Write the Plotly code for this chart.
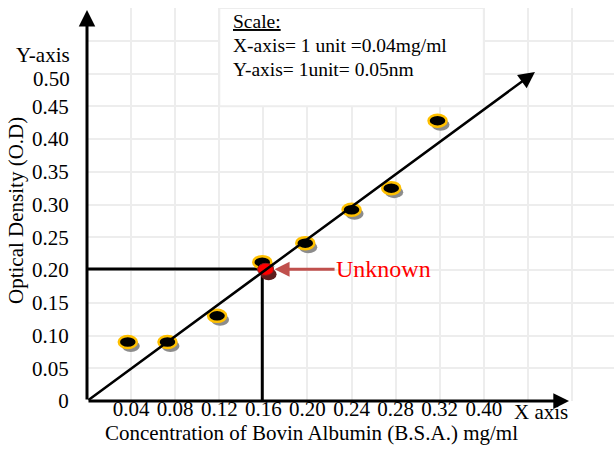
import plotly.graph_objects as go

# ---- data ----
CONC = [0.037, 0.073, 0.118, 0.159, 0.198, 0.240, 0.276, 0.318]
OD = [0.090, 0.090, 0.130, 0.212, 0.241, 0.292, 0.325, 0.428]
UNKNOWN_CONC = 0.162
UNKNOWN_OD = 0.201
GUIDE_CONC = 0.159
GUIDE_OD = 0.2015
FIT_END_CONC = 0.4064
FIT_END_OD = 0.5023
X_AXIS_END = 0.4373
Y_AXIS_END = 0.597

X_TICKS = [0.04, 0.08, 0.12, 0.16, 0.20, 0.24, 0.28, 0.32, 0.36]
X_TICK_LABELS = ["0.04", "0.08", "0.12", "0.16", "0.20", "0.24", "0.28", "0.32", "0.40"]
Y_TICKS = [0, 0.05, 0.10, 0.15, 0.20, 0.25, 0.30, 0.35, 0.40, 0.45]
Y_TICK_LABELS = ["0", "0.05", "0.10", "0.15", "0.20", "0.25", "0.30", "0.35", "0.40", "0.45"]
Y_TOP_LABEL = "0.50"
X_GRID = [0.04, 0.08, 0.12, 0.16, 0.20, 0.24, 0.28, 0.32, 0.36, 0.40, 0.44]
Y_GRID = [0.05, 0.10, 0.15, 0.20, 0.25, 0.30, 0.35, 0.40, 0.45, 0.50, 0.55, 0.60]

SCALE_BOX = (0.12, 0.36, 0.45, 0.60)

# ---- layout constants ----
W, H = 614, 453
ML, MR, MT, MB = 87, 0, 8, 52
FONT = "Liberation Serif"
GRID = "#ededed"


def px(x):
    return (x - ML) / (W - ML - MR)


def py(y):
    return (H - MB - y) / (H - MT - MB)


fig = go.Figure()

fig.add_trace(go.Scatter(x=CONC, y=OD, mode="markers",
                         marker=dict(size=14, opacity=0), name="Standards",
                         hoverinfo="x+y", showlegend=False))

shapes = []
# scale box (white, hides grid)
shapes.append(dict(type="rect", xref="x", yref="y",
                   x0=SCALE_BOX[0], x1=SCALE_BOX[1], y0=SCALE_BOX[2], y1=SCALE_BOX[3],
                   fillcolor="white", line=dict(color=GRID, width=2), layer="above"))
# guide lines for the unknown
shapes.append(dict(type="line", xref="x", yref="y", x0=0, x1=GUIDE_CONC, y0=GUIDE_OD, y1=GUIDE_OD,
                   line=dict(color="black", width=3)))
shapes.append(dict(type="line", xref="x", yref="y", x0=GUIDE_CONC, x1=GUIDE_CONC, y0=0, y1=GUIDE_OD,
                   line=dict(color="black", width=3)))

# standard points: shadow + ellipse
for cx, cy in zip(CONC, OD):
    shapes.append(dict(type="circle", xref="x", yref="y", xsizemode="pixel", ysizemode="pixel",
                       xanchor=cx, yanchor=cy, x0=-6, x1=12, y0=-10, y1=2,
                       fillcolor="#8c8c8c", line=dict(width=0)))
    shapes.append(dict(type="circle", xref="x", yref="y", xsizemode="pixel", ysizemode="pixel",
                       xanchor=cx, yanchor=cy, x0=-9, x1=9, y0=-6, y1=6,
                       fillcolor="black", line=dict(color="#FFC000", width=2.5)))

# unknown point
shapes.append(dict(type="circle", xref="x", yref="y", xsizemode="pixel", ysizemode="pixel",
                   xanchor=UNKNOWN_CONC, yanchor=UNKNOWN_OD, x0=-5, x1=11, y0=-11, y1=1,
                   fillcolor="#5e1c1c", line=dict(width=0)))
shapes.append(dict(type="circle", xref="x", yref="y", xsizemode="pixel", ysizemode="pixel",
                   xanchor=UNKNOWN_CONC, yanchor=UNKNOWN_OD, x0=-8, x1=8, y0=-6, y1=6,
                   fillcolor="#ff0000", line=dict(color="#8b1a1a", width=1)))

annotations = []
# axes arrows
annotations.append(dict(x=0, y=Y_AXIS_END, ax=0, ay=0, xref="x", yref="y", axref="x", ayref="y",
                        showarrow=True, arrowhead=2, arrowwidth=3, arrowsize=1.1, arrowcolor="black", text=""))
annotations.append(dict(x=X_AXIS_END, y=0, ax=0, ay=0, xref="x", yref="y", axref="x", ayref="y",
                        showarrow=True, arrowhead=2, arrowwidth=3, arrowsize=1.05, arrowcolor="black", text=""))
# fitted line arrow
annotations.append(dict(x=FIT_END_CONC, y=FIT_END_OD, ax=0, ay=0, xref="x", yref="y", axref="x", ayref="y",
                        showarrow=True, arrowhead=2, arrowwidth=2.5, arrowsize=1.3, arrowcolor="black", text=""))
# unknown label
annotations.append(dict(x=UNKNOWN_CONC, y=UNKNOWN_OD, xref="x", yref="y", ax=118, ay=0,
                        text="Unknown", showarrow=True, arrowhead=2, arrowwidth=3, arrowsize=1,
                        arrowcolor="#C0504D", standoff=9,
                        font=dict(family=FONT, size=24, color="#ff0000")))
# scale text
annotations.append(dict(x=px(231), y=py(21), xref="paper", yref="paper", xanchor="left", yanchor="middle",
                        text="<u>Scale:</u>", showarrow=False, font=dict(family=FONT, size=19.5, color="black")))
annotations.append(dict(x=px(231), y=py(46), xref="paper", yref="paper", xanchor="left", yanchor="middle",
                        text="X-axis= 1 unit =0.04mg/ml", showarrow=False, font=dict(family=FONT, size=19.5, color="black")))
annotations.append(dict(x=px(231), y=py(70), xref="paper", yref="paper", xanchor="left", yanchor="middle",
                        text="Y-axis= 1unit= 0.05nm", showarrow=False, font=dict(family=FONT, size=19.5, color="black")))
# axis names and top y label
annotations.append(dict(x=px(72), y=py(55), xref="paper", yref="paper", xanchor="right", yanchor="middle",
                        text="Y-axis", showarrow=False, font=dict(family=FONT, size=21, color="black")))
annotations.append(dict(x=px(72), y=py(79), xref="paper", yref="paper", xanchor="right", yanchor="middle",
                        text=Y_TOP_LABEL, showarrow=False, font=dict(family=FONT, size=21, color="black")))
annotations.append(dict(x=px(541), y=py(412), xref="paper", yref="paper", xanchor="center", yanchor="middle",
                        text="X axis", showarrow=False, font=dict(family=FONT, size=21, color="black")))
annotations.append(dict(x=px(311), y=py(433), xref="paper", yref="paper", xanchor="center", yanchor="middle",
                        text="Concentration of Bovin Albumin (B.S.A.) mg/ml", showarrow=False,
                        font=dict(family=FONT, size=21, color="black")))
annotations.append(dict(x=px(16), y=py(211), xref="paper", yref="paper", xanchor="center", yanchor="middle",
                        text="Optical Density (O.D)", textangle=-90, showarrow=False,
                        font=dict(family=FONT, size=21, color="black")))

fig.update_layout(
    width=W, height=H, margin=dict(l=ML, r=MR, t=MT, b=MB),
    paper_bgcolor="white", plot_bgcolor="white",
    shapes=shapes, annotations=annotations, showlegend=False,
    xaxis=dict(range=[0, (W - ML - MR) / 1102.3], tickvals=X_TICKS, ticktext=X_TICK_LABELS,
               showgrid=True, gridcolor=GRID, gridwidth=2, zeroline=False, showline=False,
               ticks="", ticklabelstandoff=-7,
               tickfont=dict(family=FONT, size=21, color="black"),
               minor=dict(tickvals=X_GRID, showgrid=True, gridcolor=GRID, gridwidth=2, ticks="")),
    yaxis=dict(range=[0, 0.6], tickvals=Y_TICKS, ticktext=Y_TICK_LABELS,
               showgrid=True, gridcolor=GRID, gridwidth=2, zeroline=False, showline=False,
               ticks="outside", ticklen=13, tickcolor="rgba(0,0,0,0)",
               tickfont=dict(family=FONT, size=21, color="black"),
               minor=dict(tickvals=Y_GRID, showgrid=True, gridcolor=GRID, gridwidth=2, ticks="")),
)

fig.write_html("out.html")
